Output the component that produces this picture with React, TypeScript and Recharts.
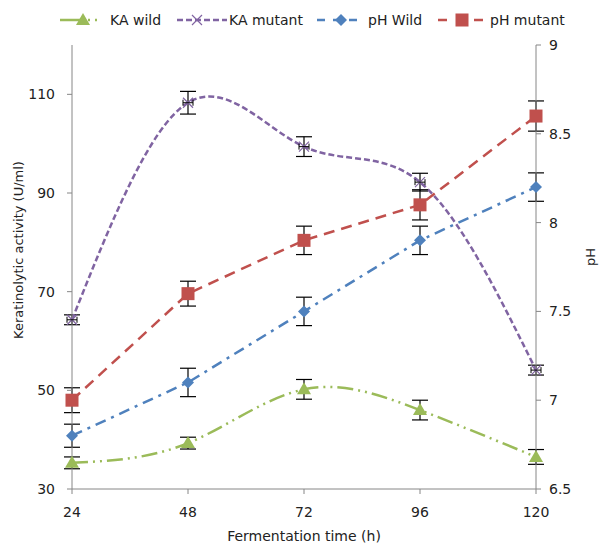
import React from 'react';
import { LineChart, Line, XAxis, YAxis, ErrorBar, Legend, Label } from 'recharts';

// fermentation time (h)
const hours = [24, 48, 72, 96, 120];
const xTicks = [24, 48, 72, 96, 120];
const kaTicks = [30, 50, 70, 90, 110];
const phTicks = [6.5, 7, 7.5, 8, 8.5, 9];

// keratinolytic activity (U/ml)
const kaWild = [35.3, 39.3, 50.2, 46.0, 36.5];
const kaWildErr = [1.2, 1.2, 2, 2, 1.5];
const kaMutant = [64.3, 108.3, 99.4, 92.2, 54.1];
const kaMutantErr = [1, 2.3, 2, 1.8, 1];

// pH
const phWild = [6.8, 7.1, 7.5, 7.9, 8.2];
const phWildErr = [0.065, 0.08, 0.08, 0.08, 0.08];
const phMutant = [7.0, 7.6, 7.9, 8.1, 8.6];
const phMutantErr = [0.07, 0.07, 0.08, 0.085, 0.085];

const data = hours.map((h, i) => ({
    h,
    kaWild: kaWild[i],
    kaWildErr: kaWildErr[i],
    kaMutant: kaMutant[i],
    kaMutantErr: kaMutantErr[i],
    phWild: phWild[i],
    phWildErr: phWildErr[i],
    phMutant: phMutant[i],
    phMutantErr: phMutantErr[i],
}));

const GREEN = '#9BBB59';
const PURPLE = '#8064A2';
const BLUE = '#4F81BD';
const RED = '#C0504D';
const AXIS = '#868686';
const TEXT = '#222';
const FONT = '"DejaVu Sans", Verdana, sans-serif';

const triangle = (cx: number, cy: number) => (
    <path d={`M${cx},${cy - 7}L${cx + 7},${cy + 5}L${cx - 7},${cy + 5}Z`} fill={GREEN} />
);
const cross = (cx: number, cy: number) => (
    <path d={`M${cx - 5},${cy - 5}L${cx + 5},${cy + 5}M${cx - 5},${cy + 5}L${cx + 5},${cy - 5}`} stroke={PURPLE} strokeWidth={1.2} fill='none' />
);
// x marker with the small horizontal error whiskers seen on the mutant series
const crossWithWhisker = (cx: number, cy: number) => (
    <g>
        {cross(cx, cy)}
        <path d={`M${cx - 5},${cy}L${cx + 5},${cy}M${cx - 5},${cy - 3}L${cx - 5},${cy + 3}M${cx + 5},${cy - 3}L${cx + 5},${cy + 3}`} stroke='#000' strokeWidth={1} fill='none' />
    </g>
);
const diamond = (cx: number, cy: number) => (
    <path d={`M${cx},${cy - 6}L${cx + 6},${cy}L${cx},${cy + 6}L${cx - 6},${cy}Z`} fill={BLUE} />
);
const square = (cx: number, cy: number) => (
    <rect x={cx - 6.5} y={cy - 6.5} width={13} height={13} fill={RED} />
);

const makeDot = (fn: (cx: number, cy: number) => React.ReactElement) => (p: any) => (
    <g key={`dot-${p.dataKey}-${p.index}`}>{fn(p.cx, p.cy)}</g>
);

// legend samples: left edge, sample width, marker offset, text left
const legendItems = [
    { name: 'KA wild', color: GREEN, dash: '24 4 2 5 2 20', shape: triangle, left: 60, w: 44, mark: 23, text: 110 },
    { name: 'KA mutant', color: PURPLE, dash: '6 3', shape: cross, left: 177, w: 50, mark: 20, text: 229 },
    { name: 'pH Wild', color: BLUE, dash: '8 8', shape: diamond, left: 317, w: 40, mark: 24, text: 368 },
    { name: 'pH mutant', color: RED, dash: '9 9', shape: square, left: 438, w: 47, mark: 24, text: 490 },
];

const ChartLegend = () => (
    <div style={{ position: 'relative', height: 18, fontFamily: FONT, fontSize: 14, color: TEXT }}>
        {legendItems.map((it) => (
            <React.Fragment key={it.name}>
                <svg width={it.w} height={18} style={{ position: 'absolute', left: it.left, top: 0 }}>
                    <line x1={0} y1={9} x2={it.w} y2={9} stroke={it.color} strokeWidth={2.5} strokeDasharray={it.dash} />
                    {it.shape(it.mark, 9)}
                </svg>
                <span style={{ position: 'absolute', left: it.text, top: 0, lineHeight: '18px', whiteSpace: 'nowrap' }}>{it.name}</span>
            </React.Fragment>
        ))}
    </div>
);

const tickStyle = { fontFamily: FONT, fontSize: 14, fill: TEXT };

export default function App() {
    return (
        <div style={{ position: 'absolute', left: 0, top: 0, width: 602, height: 548, background: '#fff' }}>
            <LineChart
                width={602}
                height={548}
                data={data}
                margin={{ top: 45, right: 12, bottom: 19, left: 12 }}
            >
                <Legend
                    content={<ChartLegend />}
                    layout='horizontal'
                    verticalAlign='middle'
                    align='center'
                    wrapperStyle={{ top: 11, left: 0, width: 602 }}
                />
                <XAxis
                    dataKey='h'
                    type='number'
                    domain={[24, 120]}
                    ticks={xTicks}
                    height={40}
                    stroke={AXIS}
                    tick={tickStyle}
                    tickSize={5}
                    tickMargin={13}
                >
                    <Label
                        content={(p: any) => {
                            const vb = p.viewBox;
                            return (
                                <text x={vb.x + vb.width / 2} y={vb.y + 52} textAnchor='middle' style={{ fontFamily: FONT, fontSize: 14, fill: TEXT }}>
                                    Fermentation time (h)
                                </text>
                            );
                        }}
                    />
                </XAxis>
                <YAxis
                    yAxisId='ka'
                    domain={[30, 120]}
                    ticks={kaTicks}
                    width={60}
                    stroke={AXIS}
                    tick={tickStyle}
                    tickSize={5}
                    tickMargin={12}
                    allowDataOverflow
                >
                    <Label
                        content={(p: any) => {
                            const vb = p.viewBox;
                            const x = vb.x + 6;
                            const y = 250;
                            return (
                                <text x={x} y={y} transform={`rotate(-90 ${x} ${y})`} textAnchor='middle' dominantBaseline='central' style={{ fontFamily: FONT, fontSize: 13, fill: TEXT }}>
                                    Keratinolytic activity (U/ml)
                                </text>
                            );
                        }}
                    />
                </YAxis>
                <YAxis
                    yAxisId='ph'
                    orientation='right'
                    domain={[6.5, 9]}
                    ticks={phTicks}
                    width={54}
                    stroke={AXIS}
                    tick={tickStyle}
                    tickSize={5}
                    tickMargin={8}
                    allowDataOverflow
                >
                    <Label
                        content={(p: any) => {
                            const vb = p.viewBox;
                            const x = vb.x + vb.width;
                            const y = 257;
                            return (
                                <text x={x} y={y} transform={`rotate(-90 ${x} ${y})`} textAnchor='middle' dominantBaseline='central' style={{ fontFamily: FONT, fontSize: 13, fill: TEXT }}>
                                    pH
                                </text>
                            );
                        }}
                    />
                </YAxis>
                <Line
                    yAxisId='ka'
                    dataKey='kaWild'
                    name='KA wild'
                    type='natural'
                    stroke={GREEN}
                    strokeWidth={2.5}
                    strokeDasharray='16 5 2 5 2 5'
                    dot={makeDot(triangle)}
                    isAnimationActive={false}
                >
                    <ErrorBar dataKey='kaWildErr' direction='y' width={8} stroke='#000' strokeWidth={1.2} />
                </Line>
                <Line
                    yAxisId='ka'
                    dataKey='kaMutant'
                    name='KA mutant'
                    type='natural'
                    stroke={PURPLE}
                    strokeWidth={2.5}
                    strokeDasharray='6 3'
                    dot={makeDot(crossWithWhisker)}
                    isAnimationActive={false}
                >
                    <ErrorBar dataKey='kaMutantErr' direction='y' width={8} stroke='#000' strokeWidth={1.2} />
                </Line>
                <Line
                    yAxisId='ph'
                    dataKey='phWild'
                    name='pH Wild'
                    type='linear'
                    stroke={BLUE}
                    strokeWidth={2.5}
                    strokeDasharray='11 6 3 6'
                    dot={makeDot(diamond)}
                    isAnimationActive={false}
                >
                    <ErrorBar dataKey='phWildErr' direction='y' width={8} stroke='#000' strokeWidth={1.2} />
                </Line>
                <Line
                    yAxisId='ph'
                    dataKey='phMutant'
                    name='pH mutant'
                    type='linear'
                    stroke={RED}
                    strokeWidth={2.5}
                    strokeDasharray='11 7'
                    dot={makeDot(square)}
                    isAnimationActive={false}
                >
                    <ErrorBar dataKey='phMutantErr' direction='y' width={8} stroke='#000' strokeWidth={1.2} />
                </Line>
            </LineChart>
        </div>
    );
}
